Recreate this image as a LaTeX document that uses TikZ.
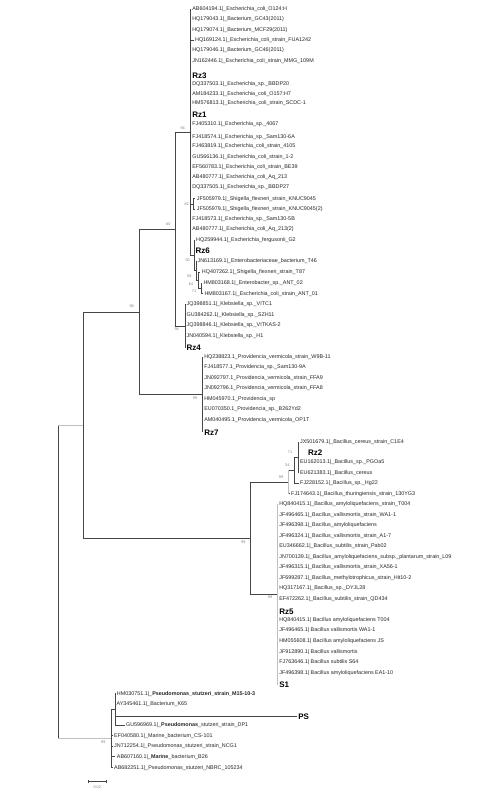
\documentclass[tikz,border=0pt]{standalone}
\usepackage{fontspec}
\setmainfont{Liberation Sans}
\begin{document}
\begin{tikzpicture}[x=1pt,y=-1pt,
  br/.style={draw=gray!55!black, line width=0.6pt},
  hl/.style={draw=gray!50, line width=1.3pt},
  leaf/.style={anchor=west, inner xsep=1.4pt, inner ysep=0pt, font=\fontsize{5.4}{6}\selectfont, text=black!85},
  tag/.style={anchor=west, inner xsep=1.4pt, inner ysep=0pt, font=\fontsize{8}{9}\selectfont\bfseries, text=black},
  boot/.style={inner sep=0pt, font=\fontsize{3.8}{4}\selectfont, text=gray}]
\fill[white] (0,0) rectangle (500,792);
\path[use as bounding box] (0,0) rectangle (500,792);

% internal nodes
\coordinate (root) at (58.3,581.9);
\coordinate (nX) at (83.3,425.2);
\coordinate (nP) at (111.7,738.6);
\coordinate (nQ) at (115,709.5);
\coordinate (nY) at (139.3,312);
\coordinate (nB) at (250.7,538.2);
\coordinate (nZ) at (175.7,229.5);
\coordinate (nPr) at (202.7,394.5);
\coordinate (nE) at (190.7,132.2);
\coordinate (nK) at (185,326);
\coordinate (nJF) at (193.5,203.85);
\coordinate (nA) at (194,255.3);
\coordinate (nBn) at (196,270.7);
\coordinate (nC) at (198.5,280.3);
\coordinate (nD) at (201,288.35);
\coordinate (nCer) at (288.3,481.9);
\coordinate (nBB) at (294.5,470.1);
\coordinate (nCC) at (298.5,457.2);
\coordinate (nBac) at (277.7,594.5);

% Escherichia clade
\node[leaf] (e1) at (190.7,9) {AB604194.1|\_Escherichia\_coli\_O124:H};
\node[leaf] (e2) at (190.7,19.3) {HQ179043.1|\_Bacterium\_GC43(2011)};
\node[leaf] (e3) at (190.7,29.7) {HQ179074.1|\_Bacterium\_MCF29(2011)};
\node[leaf] (e4) at (193.5,40) {HQ169124.1|\_Escherichia\_coli\_strain\_FUA1242};
\node[leaf] (e5) at (190.7,50.3) {HQ179046.1|\_Bacterium\_GC46(2011)};
\node[leaf] (e6) at (190.7,61) {JN162446.1|\_Escherichia\_coli\_strain\_MMG\_109M};
\node[tag] (rz3) at (190.7,75.7) {Rz3};
\node[leaf] (e7) at (190.7,84.3) {DQ337503.1|\_Escherichia\_sp.\_BBDP20};
\node[leaf] (e8) at (190.7,93.7) {AM184233.1|\_Escherichia\_coli\_O157:H7};
\node[leaf] (e9) at (190.7,103) {HM576813.1|\_Escherichia\_coli\_strain\_SCDC-1};
\node[tag] (rz1) at (190.7,114.3) {Rz1};
\node[leaf] (e10) at (190.7,124.5) {FJ405310.1|\_Escherichia\_sp.\_4067};
\node[leaf] (e11) at (190.7,136.7) {FJ418574.1|\_Escherichia\_sp.\_Sam130-6A};
\node[leaf] (e12) at (190.7,146.3) {FJ463819.1|\_Escherichia\_coli\_strain\_4105};
\node[leaf] (e13) at (190.7,156.7) {GU566136.1|\_Escherichia\_coli\_strain\_1-2};
\node[leaf] (e14) at (190.7,166.7) {EF560783.1|\_Escherichia\_coli\_strain\_BE39};
\node[leaf] (e15) at (190.7,177) {AB480777.1|\_Escherichia\_coli\_Aq\_213};
\node[leaf] (e16) at (190.7,187) {DQ337505.1|\_Escherichia\_sp.\_BBDP27};
\node[leaf] (e17) at (195.3,198.7) {JF505979.1|\_Shigella\_flexneri\_strain\_KNUC9045};
\node[leaf] (e18) at (195.3,209) {JF505979.1|\_Shigella\_flexneri\_strain\_KNUC9045(2)};
\node[leaf] (e19) at (190.7,219) {FJ418573.1|\_Escherichia\_sp.\_Sam130-5B};
\node[leaf] (e20) at (190.7,229.3) {AB480777.1|\_Escherichia\_coli\_Aq\_213(2)};
\node[leaf] (e21) at (194.6,240) {HQ259944.1|\_Escherichia\_fergusonii\_G2};
\node[tag] (rz6) at (194,251) {Rz6};
\node[leaf] (e22) at (196,261) {JN613169.1|\_Enterobacteriaceae\_bacterium\_T46};
\node[leaf] (e23) at (200.3,272.3) {HQ407262.1|\_Shigella\_flexneri\_strain\_T87};
\node[leaf] (e24) at (201.9,283) {HM803168.1|\_Enterobacter\_sp.\_ANT\_02};
\node[leaf] (e25) at (202.9,293.7) {HM803167.1|\_Escherichia\_coli\_strain\_ANT\_01};

% Klebsiella
\node[leaf] (k1) at (185,304.3) {JQ398851.1|\_Klebsiella\_sp.\_VITC1};
\node[leaf] (k2) at (185,315) {GU384262.1|\_Klebsiella\_sp.\_SZH11};
\node[leaf] (k3) at (185,325.3) {JQ398846.1|\_Klebsiella\_sp.\_VITKAS-2};
\node[leaf] (k4) at (185,335.7) {JN040594.1|\_Klebsiella\_sp.\_H1};
\node[tag] (rz4) at (185,347.7) {Rz4};

% Providencia
\node[leaf] (v1) at (202.7,356.7) {HQ238823.1\_Providencia\_vermicola\_strain\_W9B-11};
\node[leaf] (v2) at (202.7,367) {FJ418577.1\_Providencia\_sp.\_Sam130-9A};
\node[leaf] (v3) at (202.7,377.7) {JN092797.1\_Providencia\_vermicola\_strain\_FFA9};
\node[leaf] (v4) at (202.7,388.3) {JN092796.1\_Providencia\_vermicola\_strain\_FFA8};
\node[leaf] (v5) at (202.7,398.7) {HM045970.1\_Providencia\_sp};
\node[leaf] (v6) at (202.7,409.3) {EU070350.1\_Providencia\_sp.\_B262Yd2};
\node[leaf] (v7) at (202.7,420) {AM040495.1\_Providencia\_vermicola\_OP1T};
\node[tag] (rz7) at (202.7,432.3) {Rz7};

% Bacillus cereus group
\node[leaf] (c1) at (298.5,441.7) {JX501679.1|\_Bacillus\_cereus\_strain\_C1E4};
\node[tag] (rz2) at (306.5,453) {Rz2};
\node[leaf] (c2) at (298.5,462.3) {EU162013.1|\_Bacillus\_sp.\_PGOa5};
\node[leaf] (c3) at (298.5,472.7) {EU621383.1|\_Bacillus\_cereus};
\node[leaf] (c4) at (298.6,483) {FJ228152.1|\_Bacillus\_sp.\_Hg22};
\node[leaf] (c5) at (289.6,493.7) {FJ174643.1|\_Bacillus\_thuringiensis\_strain\_130YG3};

% Bacillus subtilis group
\node[leaf] (s1) at (277.7,504) {HQ840415.1|\_Bacillus\_amyloliquefaciens\_strain\_T004};
\node[leaf] (s2) at (277.7,514.7) {JF496465.1|\_Bacillus\_vallismortis\_strain\_WA1-1};
\node[leaf] (s3) at (277.7,525.3) {JF496398.1|\_Bacillus\_amyloliquefaciens};
\node[leaf] (s4) at (277.7,535.7) {JF496324.1|\_Bacillus\_vallismortis\_strain\_A1-7};
\node[leaf] (s5) at (277.7,546.3) {EU346662.1|\_Bacillus\_subtilis\_strain\_Pab02};
\node[leaf] (s6) at (277.7,556.7) {JN700139.1|\_Bacillus\_amyloliquefaciens\_subsp.\_plantarum\_strain\_L09};
\node[leaf] (s7) at (277.7,567.3) {JF496315.1|\_Bacillus\_vallismortis\_strain\_XA56-1};
\node[leaf] (s8) at (277.7,577.7) {JF699287.1|\_Bacillus\_methylotrophicus\_strain\_Hit10-2};
\node[leaf] (s9) at (277.7,588.3) {HQ317167.1|\_Bacillus\_sp.\_DYJL28};
\node[leaf] (s10) at (277.7,599) {EF472262.1|\_Bacillus\_subtilis\_strain\_QD434};
\node[tag] (rz5) at (277.7,611.3) {Rz5};
\node[leaf] (s11) at (277.7,620) {HQ840415.1| Bacillus amyloliquefaciens T004};
\node[leaf] (s12) at (277.7,630.3) {JF496465.1| Bacillus vallismortis WA1-1};
\node[leaf] (s13) at (277.7,641) {HM055608.1| Bacillus amyloliquefaciens JS};
\node[leaf] (s14) at (277.7,651.7) {JF912890.1| Bacillus vallismortis};
\node[leaf] (s15) at (277.7,662.3) {FJ763646.1| Bacillus subtilis S64};
\node[leaf] (s16) at (277.7,672.7) {JF496398.1| Bacillus amyloliquefaciens EA1-10};
\node[tag] (sone) at (277.7,685) {S1};

% Pseudomonas
\node[leaf] (p1) at (115.3,693.7) {HM030751.1|\_\textbf{Pseudomonas\_stutzeri\_strain\_M15-10-3}};
\node[leaf] (p2) at (115,704.3) {AY345461.1|\_Bacterium\_K65};
\node[tag] (ps) at (296.7,716.3) {PS};
\node[leaf] (p3) at (124.5,725.3) {GU596969.1|\_\textbf{Pseudomonas}\_stutzeri\_strain\_DP1};
\node[leaf] (p4) at (112.6,735.7) {EF040580.1|\_Marine\_bacterium\_CS-101};
\node[leaf] (p5) at (112.6,746.3) {JN712254.1|\_Pseudomonas\_stutzeri\_strain\_NCG1};
\node[leaf] (p6) at (115.3,756.7) {AB607160.1|\_\textbf{Marine}\_bacterium\_B26};
\node[leaf] (p7) at (112.6,767.7) {AB682251.1|\_Pseudomonas\_stutzeri\_NBRC\_105234};

% branches
\draw[br] (root) |- (nX);
\draw[br] (root) |- (nP);
\draw[hl] (root |- nX) -- (nX);
\draw[hl] (root |- nP) -- (nP);
\draw[br] (nX) |- (nY);
\draw[br] (nX) |- (nB);
\draw[br] (nY) |- (nZ);
\draw[br] (nY) |- (nPr);
\draw[br] (nZ) |- (nE);
\draw[br] (nZ) |- (nK);
\foreach \c in {e1,e2,e3,e4,e5,e6,rz3,e7,e8,e9,rz1,e10,e11,e12,e13,e14,e15,e16,e19,e20}
  \draw[br] (nE) |- (\c.west);
\draw[br] (nE) |- (nJF);
\draw[br] (nE) |- (nA);
\draw[br] (nJF) |- (e17.west);
\draw[br] (nJF) |- (e18.west);
\draw[br] (nA) |- (e21.west);
\draw[br] (nA) |- (rz6.west);
\draw[br] (nA) |- (nBn);
\draw[br] (nBn) |- (e22.west);
\draw[br] (nBn) |- (nC);
\draw[br] (nC) |- (e23.west);
\draw[br] (nC) |- (nD);
\draw[br] (nD) |- (e24.west);
\draw[br] (nD) |- (e25.west);
\foreach \c in {k1,k2,k3,k4,rz4}
  \draw[br] (nK) |- (\c.west);
\foreach \c in {v1,v2,v3,v4,v5,v6,v7,rz7}
  \draw[br] (nPr) |- (\c.west);
\draw[br] (nB) |- (nCer);
\draw[br] (nB) |- (nBac);
\draw[br] (nCer) |- (nBB);
\draw[br] (nCer) |- (c5.west);
\draw[hl] (nCer |- nBB) -- (nCer |- c5.west);
\draw[br] (nBB) |- (nCC);
\draw[br] (nBB) |- (c4.west);
\foreach \c in {c1,c2,c3}
  \draw[br] (nCC) |- (\c.west);
\foreach \c in {s1,s2,s3,s4,s5,s6,s7,s8,s9,s10,rz5,s11,s12,s13,s14,s15,s16,sone}
  \draw[br] (nBac) |- (\c.west);
\draw[hl] (nBac |- s1.west) -- (nBac |- sone.west);
\draw[br] (nP) |- (nQ);
\foreach \c in {p4,p5,p6,p7}
  \draw[br] (nP) |- (\c.west);
\foreach \c in {p1,p2,ps,p3}
  \draw[br] (nQ) |- (\c.west);

% bootstrap values
\node[boot] (b1) at (182.7,127.7) {56};
\node[boot] (b2) at (186.7,204.3) {62};
\node[boot] (b3) at (168.3,224) {60};
\node[boot] (b4) at (187.7,260) {50};
\node[boot] (b5) at (189.3,275.7) {58};
\node[boot] (b6) at (191,284) {64};
\node[boot] (b7) at (194,291) {71};
\node[boot] (b8) at (176.7,328.7) {94};
\node[boot] (b9) at (131.7,306) {98};
\node[boot] (b10) at (195,397.7) {99};
\node[boot] (b11) at (290,451.7) {71};
\node[boot] (b12) at (287.3,465) {34};
\node[boot] (b13) at (281,476.7) {99};
\node[boot] (b14) at (243.3,541.7) {99};
\node[boot] (b15) at (270,597.3) {99};
\node[boot] (b16) at (103.3,742.3) {99};

% scale bar
\coordinate (sb1) at (88.3,781.7);
\coordinate (sb2) at (106,781.7);
\draw[br] (sb1) -- (sb2);
\draw[br] ([yshift=-1.5pt]sb1) -- ([yshift=1.5pt]sb1);
\draw[br] ([yshift=-1.5pt]sb2) -- ([yshift=1.5pt]sb2);
\node[boot] (sbl) at (97.2,787) {0.02};
\end{tikzpicture}
\end{document}
